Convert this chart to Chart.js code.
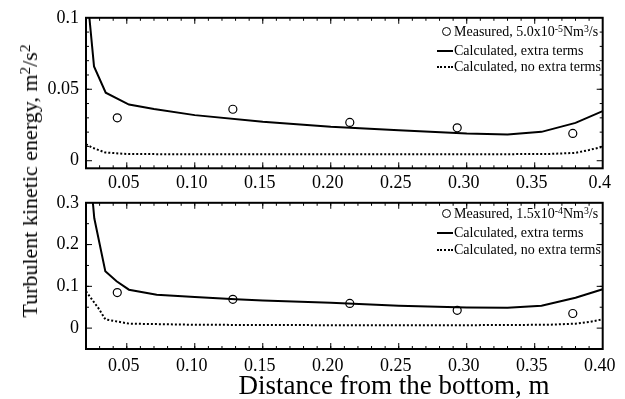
<!DOCTYPE html>
<html>
<head>
<meta charset="utf-8">
<script src="https://cdn.jsdelivr.net/npm/chart.js@4.4.0/dist/chart.umd.min.js"></script>
<style>
  body{margin:0;background:#fff;width:625px;height:399px;overflow:hidden;position:relative;
       font-family:"Liberation Serif","Times New Roman",serif;color:#000}
  canvas{position:absolute;left:0}
  #c1{top:0}
  #c2{top:185px}
  sup{font-size:70%;line-height:0;vertical-align:0.45em}
  .ytitle{position:absolute;left:30px;top:181px;transform:translate(-50%,-50%) rotate(-90deg);
          white-space:nowrap;font-size:22px}
  .xtitle{position:absolute;left:394px;top:385px;transform:translate(-50%,-50%);
          white-space:nowrap;font-size:27px}
  .row{position:absolute;left:437px;height:16px;line-height:16px;font-size:14px;white-space:nowrap}
  .sym{display:inline-block;width:17px;height:16px;vertical-align:top;position:relative}
  .sym i{position:absolute;left:0;top:7px;width:16px;border-top:2px solid #000}
  .sym i.dot{border-top-style:dotted}
  .sym b{position:absolute;left:5px;top:3px;width:7px;height:7px;border:1.2px solid #000;border-radius:50%}
</style>
</head>
<body>
<canvas id="c1" width="625" height="200"></canvas>
<canvas id="c2" width="625" height="214"></canvas>

<div class="ytitle">Turbulent kinetic energy, m<sup>2</sup>/s<sup>2</sup></div>
<div class="xtitle">Distance from the bottom, m</div>

<div class="row" style="top:24px"><span class="sym"><b></b></span>Measured, 5.0x10<sup>-5</sup>Nm<sup>3</sup>/s</div>
<div class="row" style="top:43px"><span class="sym"><i></i></span>Calculated, extra terms</div>
<div class="row" style="top:59px"><span class="sym"><i class="dot"></i></span>Calculated, no extra terms</div>

<div class="row" style="top:206px"><span class="sym"><b></b></span>Measured, 1.5x10<sup>-4</sup>Nm<sup>3</sup>/s</div>
<div class="row" style="top:225px"><span class="sym"><i></i></span>Calculated, extra terms</div>
<div class="row" style="top:242px"><span class="sym"><i class="dot"></i></span>Calculated, no extra terms</div>

<script>
/*------------------------ data --------------------------*/
const xTickVals = [0.05, 0.10, 0.15, 0.20, 0.25, 0.30, 0.35, 0.40];
const xLabelsTop = ['0.05','0.10','0.15','0.20','0.25','0.30','0.35','0.4'];
const xLabelsBot = ['0.05','0.10','0.15','0.20','0.25','0.30','0.35','0.40'];
const yTickTop = [0, 0.05, 0.1];
const yLabelsTop = ['0','0.05','0.1'];
const yTickBot = [0, 0.1, 0.2, 0.3];
const yLabelsBot = ['0','0.1','0.2','0.3'];

// measured points (circles)
const measX   = [0.043, 0.128, 0.214, 0.293, 0.378];
const measTop = [0.030, 0.036, 0.0268, 0.023, 0.0191];
const measBot = [0.085, 0.069, 0.059, 0.0426, 0.035];

// upper panel, 5.0x10^-5
const topExtraX = [0.021, 0.0259, 0.0345, 0.0516, 0.07, 0.10, 0.15, 0.20, 0.25, 0.30, 0.33, 0.355, 0.38, 0.40];
const topExtraY = [0.115, 0.066, 0.0476, 0.0393, 0.0362, 0.0319, 0.0272, 0.0237, 0.0214, 0.0191, 0.0184, 0.0202, 0.0265, 0.0347];
const topNoX = [0.02, 0.025, 0.034, 0.05, 0.10, 0.20, 0.30, 0.36, 0.38, 0.39, 0.40];
const topNoY = [0.0115, 0.009, 0.0058, 0.0047, 0.0045, 0.0045, 0.0045, 0.0047, 0.0055, 0.0075, 0.0098];

// lower panel, 1.5x10^-4
const botExtraX = [0.0245, 0.0261, 0.0342, 0.0425, 0.0516, 0.072, 0.10, 0.13, 0.15, 0.20, 0.25, 0.30, 0.33, 0.355, 0.38, 0.40];
const botExtraY = [0.32, 0.263, 0.136, 0.112, 0.092, 0.080, 0.0744, 0.069, 0.066, 0.061, 0.0535, 0.0495, 0.0488, 0.0535, 0.0728, 0.093];
const botNoX = [0.02, 0.0296, 0.0342, 0.0516, 0.10, 0.20, 0.30, 0.36, 0.38, 0.39, 0.40];
const botNoY = [0.088, 0.0456, 0.021, 0.0107, 0.008, 0.007, 0.007, 0.008, 0.0107, 0.0147, 0.021];

/*------------------------ helpers --------------------------*/
const pts = (xs, ys) => xs.map((x, i) => ({x: x, y: ys[i]}));
const range = (a, b, s) => { let r = []; for (let v = a; v <= b + s / 2; v += s) r.push(+v.toFixed(4)); return r; };

// frame + inward ticks on all four sides
const frameTicks = {
  id: 'frameTicks',
  afterDraw(chart, args, o) {
    const ctx = chart.ctx, a = chart.chartArea, x = chart.scales.x, y = chart.scales.y;
    ctx.save();
    ctx.strokeStyle = '#000';
    ctx.lineWidth = 1;
    let mark = (vals, len) => {
      ctx.beginPath();
      vals.forEach(v => {
        let px = x.getPixelForValue(v);
        if (px > a.left + 1 && px < a.right - 1) {
          ctx.moveTo(px, a.bottom); ctx.lineTo(px, a.bottom - len);
          ctx.moveTo(px, a.top); ctx.lineTo(px, a.top + len);
        }
      });
      ctx.stroke();
    };
    let markY = (vals, len) => {
      ctx.beginPath();
      vals.forEach(v => {
        let py = y.getPixelForValue(v);
        if (py > a.top + 1 && py < a.bottom - 1) {
          ctx.moveTo(a.left, py); ctx.lineTo(a.left + len, py);
          ctx.moveTo(a.right, py); ctx.lineTo(a.right - len, py);
        }
      });
      ctx.stroke();
    };
    mark(o.xMinor, 3);
    mark(xTickVals, 6);
    markY(o.yMinor, 3);
    markY(o.yMajor, 6);
    ctx.lineWidth = 2;
    ctx.strokeRect(a.left, a.top, a.right - a.left, a.bottom - a.top);
    ctx.restore();
  }
};

Chart.defaults.font.family = '"Liberation Serif", "Times New Roman", serif';
Chart.defaults.color = '#000';

let makePanel = (id, opt) => {
  return new Chart(document.getElementById(id), {
    type: 'line',
    data: {
      datasets: [
        {label: 'Measured', type: 'scatter', data: opt.meas, pointStyle: 'circle', pointRadius: 4,
         pointBorderWidth: 1.2, borderColor: '#000', backgroundColor: 'rgba(0,0,0,0)', showLine: false},
        {label: 'Calculated, extra terms', data: opt.extra, borderColor: '#000', borderWidth: 2,
         pointRadius: 0, tension: 0, fill: false},
        {label: 'Calculated, no extra terms', data: opt.noextra, borderColor: '#000', borderWidth: 2,
         borderDash: [2, 2], pointRadius: 0, tension: 0, fill: false}
      ]
    },
    options: {
      responsive: false,
      devicePixelRatio: 1,
      animation: false,
      layout: {padding: {left: 0, right: 22.3, top: opt.padTop, bottom: 0}},
      plugins: {legend: {display: false}, tooltip: {enabled: false},
                frameTicks: {xMinor: range(0.03, 0.39, 0.01), yMinor: opt.yMinor, yMajor: opt.yTicks}},
      scales: {
        x: {
          type: 'linear', min: 0.02, max: 0.40,
          afterBuildTicks: s => { s.ticks = xTickVals.map(v => ({value: v})); },
          afterFit: s => { s.height = opt.xAxisH; },
          ticks: {callback: (v, i) => opt.xLabels[i], font: {size: 18}, padding: opt.xPad,
                  labelOffset: -3, maxRotation: 0, autoSkip: false},
          grid: {display: false, drawTicks: false},
          border: {display: false}
        },
        y: {
          type: 'linear', min: opt.yMin, max: opt.yMax,
          afterBuildTicks: s => { s.ticks = opt.yTicks.map(v => ({value: v})); },
          afterFit: s => { s.width = 86; },
          ticks: {callback: (v, i) => opt.yLabels[i], font: {size: 18}, padding: 7, autoSkip: false},
          grid: {display: false, drawTicks: false},
          border: {display: false}
        }
      }
    },
    plugins: [frameTicks]
  });
};

makePanel('c1', {
  meas: pts(measX, measTop), extra: pts(topExtraX, topExtraY), noextra: pts(topNoX, topNoY),
  padTop: 17.3, xAxisH: 200 - 168.3, xPad: 4, xLabels: xLabelsTop,
  yMin: -0.0053, yMax: 0.1, yTicks: yTickTop, yLabels: yLabelsTop, yMinor: range(0.01, 0.09, 0.01)
});

makePanel('c2', {
  meas: pts(measX, measBot), extra: pts(botExtraX, botExtraY), noextra: pts(botNoX, botNoY),
  padTop: 13.3, xAxisH: 214 - 164, xPad: 6, xLabels: xLabelsBot,
  yMin: -0.05, yMax: 0.3, yTicks: yTickBot, yLabels: yLabelsBot, yMinor: range(0.05, 0.25, 0.05)
});
</script>
</body>
</html>
